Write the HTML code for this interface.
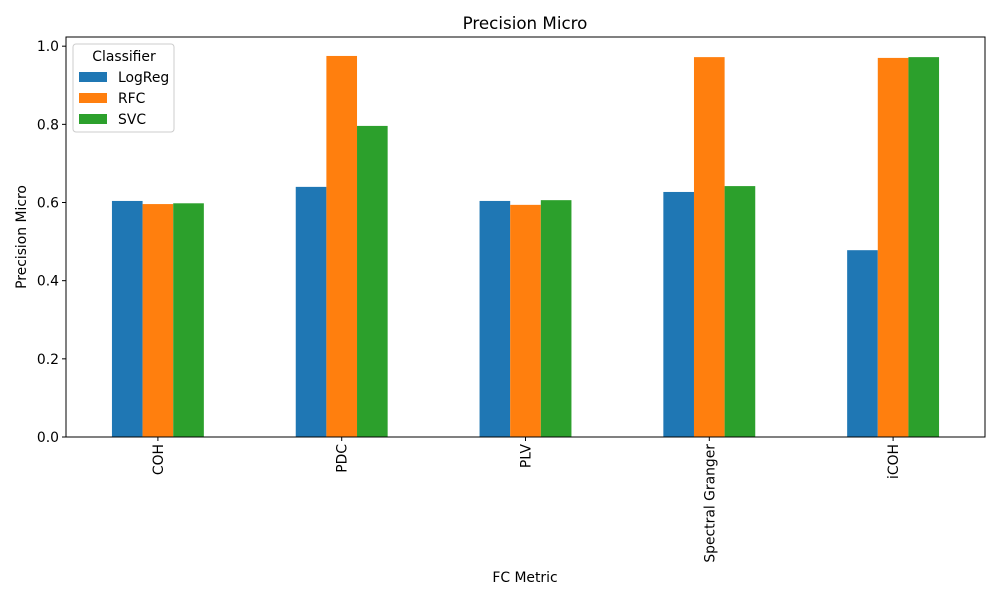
<!DOCTYPE html>
<html><head><meta charset="utf-8"><style>
body{margin:0;background:#fff;font-family:"Liberation Sans","DejaVu Sans",sans-serif;}
svg text{font-family:"DejaVu Sans","Liberation Sans",sans-serif;}
</style></head><body>
<svg id="chart" width="1000" height="600" xmlns="http://www.w3.org/2000/svg">
<rect width="1000" height="600" fill="#fff"/>
<text x="525" y="29" font-size="16.7" text-anchor="middle">Precision Micro</text>
<g id="bars"></g>
<g id="axes"></g>
</svg>
<script>
const categories=["COH","PDC","PLV","Spectral Granger","iCOH"];
const seriesNames=["LogReg","RFC","SVC"];
const logreg=[0.604,0.640,0.604,0.627,0.478];
const rfc=[0.596,0.975,0.594,0.972,0.970];
const svc=[0.598,0.796,0.606,0.642,0.972];
const yTicks=[0,0.2,0.4,0.6,0.8,1.0];
const colors=["#1f77b4","#ff7f0e","#2ca02c"];
const L=66,R=985,T=37,B=437,yMax=1.0235;
const ns="http://www.w3.org/2000/svg";
const bars=document.getElementById('bars'),axes=document.getElementById('axes');
function y(v){return B-(v/yMax)*(B-T);}
const step=(R-L)/categories.length;
function x(i){return L+step*(i+0.5);}
function mk(t,a,p){const e=document.createElementNS(ns,t);for(const k in a)e.setAttribute(k,a[k]);(p||axes).appendChild(e);return e;}
const series=[logreg,rfc,svc];const bw=step*0.5/3;
series.forEach((s,si)=>s.forEach((v,i)=>{
 const r=mk('rect',{x:x(i)-1.5*bw+si*bw,y:y(v),width:bw,height:B-y(v),fill:colors[si]},bars);
 
 
}));
const frame=mk('rect',{x:L,y:T,width:R-L,height:B-T,fill:'none',stroke:'#000','stroke-width':1});


yTicks.forEach(t=>{
 mk('line',{x1:L-4,x2:L,y1:y(t),y2:y(t),stroke:'#000'});
 const e=mk('text',{x:L-7,y:y(t)+5,'font-size':13.9,'text-anchor':'end'});e.textContent=t.toFixed(1);
 
 
});
categories.forEach((c,i)=>{
 mk('line',{x1:x(i),x2:x(i),y1:B,y2:B+4,stroke:'#000'});
 const e=mk('text',{x:x(i)+5,y:B+7,'font-size':13.9,'text-anchor':'end',transform:`rotate(-90 ${x(i)+5} ${B+7})`});e.textContent=c;
 
 
});
let e=mk('text',{x:525,y:582,'font-size':13.9,'text-anchor':'middle'});e.textContent='FC Metric';


e=mk('text',{x:26,y:237,'font-size':13.9,'text-anchor':'middle',transform:'rotate(-90 26 237)'});e.textContent='Precision Micro';


const lg=mk('g',{});


mk('rect',{x:73,y:44,width:101,height:88,fill:'#fff',stroke:'#ccc',rx:3},lg);
e=mk('text',{x:124,y:61,'font-size':13.9,'text-anchor':'middle'},lg);e.textContent='Classifier';
seriesNames.forEach((n,i)=>{
 const yy=76+i*21;
 const r=mk('rect',{x:79,y:yy-4,width:28,height:10,fill:colors[i]},lg);
 
 
 const t=mk('text',{x:118,y:yy+6,'font-size':13.9},lg);t.textContent=n;
 
 
});
</script>
</body></html>
